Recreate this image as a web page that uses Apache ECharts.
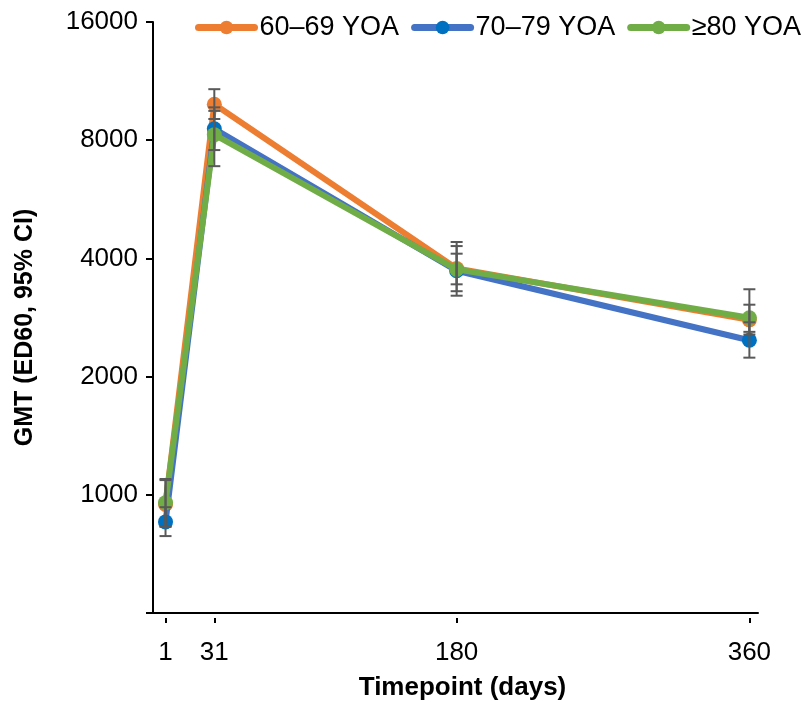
<!DOCTYPE html>
<html><head><meta charset="utf-8">
<script src="https://cdn.jsdelivr.net/npm/echarts@6/dist/echarts.min.js"></script>
<style>html,body{margin:0;padding:0;background:#fff}#c{width:804px;height:702px}</style>
</head><body><div id="c"></div>
<script>
const days = [1, 31, 180, 360];
const tickLabels = [1000, 2000, 4000, 8000, 16000];
const names = ['60–69 YOA', '70–79 YOA', '≥80 YOA'];
const gmt60 = [945, 9880, 3770, 2790];
const gmt70 = [853, 8550, 3720, 2475];
const gmt80 = [955, 8265, 3750, 2825];
const lo60 = [830, 9060, 3300, 2560];
const hi60 = [1090, 10790, 4404, 3049];
const lo70 = [785, 7550, 3214, 2235];
const hi70 = [930, 9500, 4112, 2750];
const lo80 = [830, 6870, 3436, 2600];
const hi80 = [1097, 9700, 4300, 3338];
const BASE = 500;
const t = v => Math.log2(v / BASE);
const lineColors = ['#ED7D31', '#4472C4', '#70AD47'];
const dotColors = ['#ED7D31', '#0070C0', '#70AD47'];
const font = '"Liberation Sans", Arial, sans-serif';

function lineSeries(i, vals) {
  return {
    type: 'line', name: names[i], xAxisIndex: 0,
    data: days.map((d, k) => [d, t(vals[k])]),
    symbol: 'circle', symbolSize: 15,
    lineStyle: { width: 6, color: lineColors[i], cap: 'round' },
    itemStyle: { color: dotColors[i] },
    z: 2 + i
  };
}
function errSeries(lo, hi) {
  return {
    type: 'custom', xAxisIndex: 0, z: 10,
    data: days.map((d, k) => [d, t(lo[k]), t(hi[k])]),
    renderItem: function (params, api) {
      const a = api.coord([api.value(0), api.value(1)]);
      const b = api.coord([api.value(0), api.value(2)]);
      const w = 6;
      const st = { stroke: '#595959', lineWidth: 2, fill: null };
      return { type: 'group', children: [
        { type: 'line', shape: { x1: a[0], y1: a[1], x2: b[0], y2: b[1] }, style: st },
        { type: 'line', shape: { x1: a[0] - w, y1: a[1], x2: a[0] + w, y2: a[1] }, style: st },
        { type: 'line', shape: { x1: b[0] - w, y1: b[1], x2: b[0] + w, y2: b[1] }, style: st }
      ]};
    }
  };
}

const chart = echarts.init(document.getElementById('c'), null, { renderer: 'canvas' });
chart.setOption({
  animation: false,
  textStyle: { fontFamily: font },
  grid: { left: 153, right: 46, top: 22, bottom: 89, containLabel: false, outerBoundsMode: 'none' },
  legend: {
    top: 14, left: 195, width: 680, padding: 0, itemGap: 12, itemWidth: 56, itemHeight: 17,
    lineStyle: { width: 7, cap: 'round' },
    textStyle: { fontSize: 27, color: '#000', fontFamily: font },
    data: names
  },
  xAxis: [{
    type: 'value', min: -6.7, max: 365.3,
    axisLine: { show: true, onZero: false, lineStyle: { color: '#000', width: 2 } },
    axisTick: { show: false },
    splitLine: { show: false },
    axisLabel: { customValues: days, margin: 27, fontSize: 26, color: '#000', fontFamily: font },
    name: 'Timepoint (days)', nameLocation: 'middle', nameGap: 62,
    nameTextStyle: { fontSize: 26, fontWeight: 'bold', color: '#000', fontFamily: font, padding: [0, 0, 0, 14] }
  }, {
    type: 'value', min: -6.7, max: 365.3, position: 'bottom', offset: 5,
    axisLine: { show: false, onZero: false },
    axisTick: { show: true, customValues: days, length: 5, lineStyle: { color: '#000', width: 2 } },
    axisLabel: { show: false }, splitLine: { show: false }
  }],
  yAxis: {
    type: 'value', min: 0, max: 5, interval: 1,
    axisLine: { show: true, onZero: false, lineStyle: { color: '#000', width: 2 } },
    axisTick: { show: true, length: 7, lineStyle: { color: '#000', width: 2 } },
    splitLine: { show: false },
    axisLabel: {
      margin: 15, fontSize: 26, color: '#000', fontFamily: font,
      formatter: v => { const n = Math.round(BASE * Math.pow(2, v)); return tickLabels.indexOf(n) >= 0 ? String(n) : ''; }
    },
    name: 'GMT (ED60, 95% CI)', nameLocation: 'middle', nameGap: 115,
    nameTextStyle: { fontSize: 25, fontWeight: 'bold', color: '#000', fontFamily: font, padding: [0, 20, 0, 0] }
  },
  series: [
    lineSeries(0, gmt60), lineSeries(1, gmt70), lineSeries(2, gmt80),
    errSeries(lo60, hi60), errSeries(lo70, hi70), errSeries(lo80, hi80)
  ]
});
</script></body></html>
